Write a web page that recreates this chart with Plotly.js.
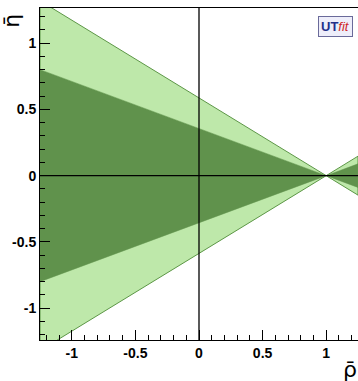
<!DOCTYPE html>
<html>
<head>
<meta charset="utf-8">
<script src="https://cdn.plot.ly/plotly-3.0.1.min.js"></script>
<style>
  html, body { margin: 0; padding: 0; background: #ffffff; }
  #chart { width: 358px; height: 381px; }
</style>
</head>
<body>
<div id="chart"></div>
<script>
// Bow-tie allowed regions in the (rho, eta) plane, all meeting at the apex (1, 0).
// Each band is described by its upper edge sampled at the x positions below;
// the lower edge is the mirror image in eta.
const rhoPoints   = [-1.25, 1.0, 1.25];
const outerEdge   = [1.32, 0.0, 0.147];   // 95% band (light)
const innerEdge   = [0.80, 0.0, 0.089];   // 68% band (dark)

const xTickVals = [-1, -0.5, 0, 0.5, 1];
const xTickText = ['-1', '-0.5', '0', '0.5', '1'];
const yTickVals = [-1, -0.5, 0, 0.5, 1];
const yTickText = ['-1', '-0.5', '0', '0.5', '1'];

// Build a closed polygon: upper edge left→right, then lower edge right→left.
function band(xs, ys) {
  const x = xs.concat(xs.slice().reverse());
  const y = ys.concat(ys.slice().reverse().map(v => -v));
  x.push(xs[0]); y.push(ys[0]);
  return { x, y };
}

const outer = band(rhoPoints, outerEdge);
const inner = band(rhoPoints, innerEdge);

const traces = [
  {
    x: outer.x, y: outer.y, type: 'scatter', mode: 'lines',
    fill: 'toself', fillcolor: 'rgb(190,232,170)',
    line: { color: 'rgb(92,150,70)', width: 1 },
    hoverinfo: 'skip', showlegend: false
  },
  {
    x: inner.x, y: inner.y, type: 'scatter', mode: 'lines',
    fill: 'toself', fillcolor: 'rgb(96,146,76)',
    line: { color: 'rgb(96,146,76)', width: 0.5 },
    hoverinfo: 'skip', showlegend: false
  }
];

const tickFont = { family: 'Liberation Sans, Arial, sans-serif', size: 14, color: '#000', weight: 'bold' };

const layout = {
  width: 358, height: 381,
  margin: { l: 40, r: 0, t: 8, b: 41 },
  paper_bgcolor: '#ffffff', plot_bgcolor: '#ffffff',
  showlegend: false,
  xaxis: {
    range: [-1.25, 1.25], fixedrange: true,
    showgrid: false, zeroline: false,
    showline: true, linecolor: '#000', linewidth: 1, mirror: true,
    ticks: 'inside', ticklen: 10, tickwidth: 1, tickcolor: '#000',
    tickvals: xTickVals, ticktext: xTickText,
    minor: { dtick: 0.1, tick0: 0, ticks: 'inside', ticklen: 5, tickwidth: 1, tickcolor: '#000', showgrid: false },
    tickfont: tickFont, layer: 'above traces'
  },
  yaxis: {
    range: [-1.24, 1.265], fixedrange: true,
    showgrid: false, zeroline: false,
    showline: true, linecolor: '#000', linewidth: 1, mirror: false,
    ticks: 'inside', ticklen: 10, tickwidth: 1, tickcolor: '#000',
    tickvals: yTickVals, ticktext: yTickText,
    minor: { dtick: 0.1, tick0: 0, ticks: 'inside', ticklen: 5, tickwidth: 1, tickcolor: '#000', showgrid: false },
    tickfont: tickFont, layer: 'above traces'
  },
  shapes: [
    // coordinate axes through the origin
    { type: 'line', xref: 'x', yref: 'paper', x0: 0, x1: 0, y0: 0, y1: 1, layer: 'above',
      line: { color: '#000', width: 1.3 } },
    { type: 'line', xref: 'paper', yref: 'y', x0: 0, x1: 1, y0: 0, y1: 0, layer: 'above',
      line: { color: '#000', width: 1.3 } }
  ],
  annotations: [
    { text: 'ρ\u0304', xref: 'paper', yref: 'paper', x: 0.975, y: -0.09,
      xanchor: 'center', yanchor: 'middle', showarrow: false,
      font: { family: 'DejaVu Sans, sans-serif', size: 22, color: '#000' } },
    { text: 'η\u0304', xref: 'paper', yref: 'paper', x: -0.088, y: 0.962,
      xanchor: 'center', yanchor: 'middle', showarrow: false, textangle: -90,
      font: { family: 'DejaVu Sans, sans-serif', size: 22, color: '#000' } },
    { text: '<b><span style="color:#23308a">UT</span></b><i><span style="color:#d02828">fit</span></i>',
      xref: 'paper', yref: 'paper', x: 0.928, y: 0.943,
      xanchor: 'center', yanchor: 'middle', showarrow: false,
      bgcolor: '#eeeefa', bordercolor: '#6a6a9a', borderwidth: 1, borderpad: 2,
      font: { family: 'Liberation Sans, Arial, sans-serif', size: 13 } }
  ]
};

Plotly.newPlot('chart', traces, layout, { staticPlot: true, displayModeBar: false });
</script>
</body>
</html>
